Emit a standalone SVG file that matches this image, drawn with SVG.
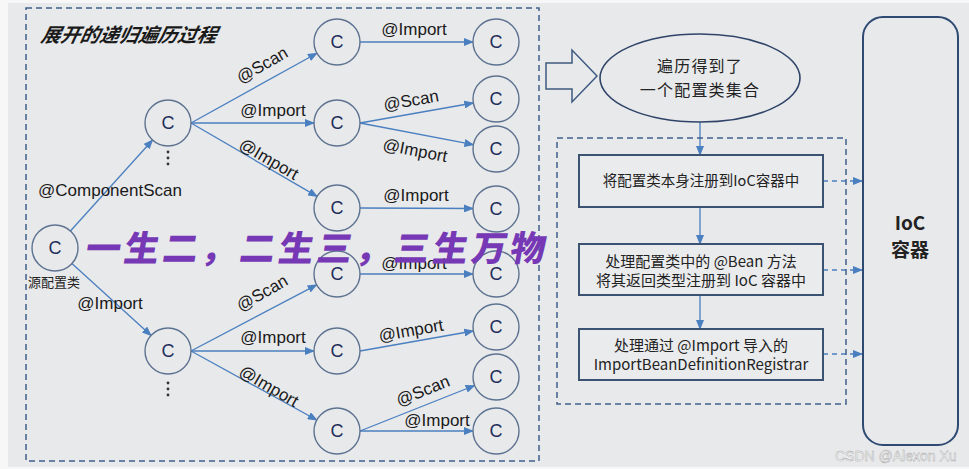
<svg xmlns="http://www.w3.org/2000/svg" width="969" height="469" viewBox="0 0 969 469">
<style>
.bg{fill:#e8e9eb}
.circ{fill:#e8e9eb;stroke:#5d7290;stroke-width:1.4}
.ct{font-family:"Liberation Sans",Arial,sans-serif;font-size:18px;fill:#1f2d5a;text-anchor:middle}
.lbl{font-family:"Liberation Sans",Arial,sans-serif;font-size:17px;fill:#1a1a1a;text-anchor:middle}
.edge{stroke:#4a7fc0;stroke-width:1.3;fill:none;marker-end:url(#ah)}
.dedge{stroke:#4a7fc0;stroke-width:1.3;fill:none;stroke-dasharray:5 4;marker-end:url(#ah)}
.dbox{fill:none;stroke:#3f5f8a;stroke-width:1.5;stroke-dasharray:6 4}
.box{fill:#eaebed;stroke:#3b5273;stroke-width:2}
.cn{font-family:"Noto Sans CJK SC","Noto Sans",sans-serif;fill:#222;text-anchor:middle}
.dots{fill:#333}
</style>
<defs>
<marker id="ah" markerUnits="userSpaceOnUse" markerWidth="10" markerHeight="8" refX="9" refY="4" orient="auto">
<path d="M0,0 L10,4 L0,8 z" fill="#4a7fc0"/>
</marker>
</defs>
<rect x="0" y="0" width="969" height="469" fill="#f7f7f7"/>
<rect x="8" y="3" width="961" height="464" class="bg"/>

<g id="frame-left">
<rect x="26" y="8" width="513" height="453" class="dbox"/>
<text x="40" y="42" font-family="'Noto Sans CJK SC',sans-serif" font-size="19.5" font-weight="700" font-style="italic" fill="#1a1a1a" transform="translate(9,0) skewX(-12)">展开的递归遍历过程</text>
</g>

<g id="connectors">
<line class="edge" x1="70.4" y1="231" x2="152.6" y2="140"/>
<line class="edge" x1="71.9" y1="263.6" x2="151.1" y2="335.6"/>
<line class="edge" x1="191" y1="123" x2="316.9" y2="53.2"/>
<line class="edge" x1="191" y1="123" x2="314" y2="123"/>
<line class="edge" x1="191" y1="123" x2="317.1" y2="196.4"/>
<line class="edge" x1="360" y1="42" x2="473" y2="42"/>
<line class="edge" x1="360" y1="123" x2="473.3" y2="103"/>
<line class="edge" x1="360" y1="123" x2="473.4" y2="144.7"/>
<line class="edge" x1="360" y1="208" x2="473" y2="208.5"/>
<line class="edge" x1="191" y1="351" x2="316.7" y2="284.8"/>
<line class="edge" x1="191" y1="351" x2="314" y2="351"/>
<line class="edge" x1="191" y1="351" x2="316.8" y2="420"/>
<line class="edge" x1="360" y1="274" x2="473" y2="274"/>
<line class="edge" x1="360" y1="351" x2="473.3" y2="331"/>
<line class="edge" x1="360" y1="431" x2="474.6" y2="385.5"/>
<line class="edge" x1="360" y1="431" x2="473" y2="431"/>
<line class="edge" x1="700" y1="122" x2="700" y2="155"/>
<line class="edge" x1="700" y1="207" x2="700" y2="244"/>
<line class="edge" x1="700" y1="295" x2="700" y2="329"/>
<line class="dedge" x1="823" y1="181" x2="862" y2="181"/>
<line class="dedge" x1="823" y1="270" x2="862" y2="270"/>
<line class="dedge" x1="823" y1="354" x2="862" y2="354"/>
</g>

<g id="edge-labels">
<text class="lbl" x="110" y="196">@ComponentScan</text>
<text class="lbl" x="110" y="309">@Import</text>
<text class="lbl" transform="translate(265,70) rotate(-30)">@Scan</text>
<text class="lbl" x="273" y="116">@Import</text>
<text class="lbl" transform="translate(266,164) rotate(30)">@Import</text>
<text class="lbl" x="414" y="35">@Import</text>
<text class="lbl" transform="translate(412,106) rotate(-10)">@Scan</text>
<text class="lbl" transform="translate(414,156) rotate(11)">@Import</text>
<text class="lbl" x="416" y="201">@Import</text>
<text class="lbl" transform="translate(265,298) rotate(-30)">@Scan</text>
<text class="lbl" x="273" y="343">@Import</text>
<text class="lbl" transform="translate(266,391) rotate(30)">@Import</text>
<text class="lbl" x="414" y="269">@Import</text>
<text class="lbl" transform="translate(412,336) rotate(-10)">@Import</text>
<text class="lbl" transform="translate(425,396) rotate(-22)">@Scan</text>
<text class="lbl" x="437" y="426">@Import</text>
</g>

<g id="node-src"><circle class="circ" cx="55" cy="248" r="23"/><text class="ct" x="55" y="254">C</text>
<text x="28" y="287" font-family="'Noto Sans CJK SC',sans-serif" font-size="13" fill="#222">源配置类</text></g>
<g id="node-a"><circle class="circ" cx="168" cy="123" r="23"/><text class="ct" x="168" y="129">C</text>
<circle class="dots" cx="168" cy="152" r="1.4"/><circle class="dots" cx="168" cy="158" r="1.4"/><circle class="dots" cx="168" cy="164" r="1.4"/></g>
<g id="node-b"><circle class="circ" cx="168" cy="351" r="23"/><text class="ct" x="168" y="357">C</text>
<circle class="dots" cx="168" cy="383" r="1.4"/><circle class="dots" cx="168" cy="389" r="1.4"/><circle class="dots" cx="168" cy="395" r="1.4"/></g>
<g id="node-a1"><circle class="circ" cx="337" cy="42" r="23"/><text class="ct" x="337" y="48">C</text></g>
<g id="node-a2"><circle class="circ" cx="337" cy="123" r="23"/><text class="ct" x="337" y="129">C</text></g>
<g id="node-a3"><circle class="circ" cx="337" cy="208" r="23"/><text class="ct" x="337" y="214">C</text></g>
<g id="node-a1a"><circle class="circ" cx="496" cy="42" r="23"/><text class="ct" x="496" y="48">C</text></g>
<g id="node-a2a"><circle class="circ" cx="496" cy="99" r="23"/><text class="ct" x="496" y="105">C</text></g>
<g id="node-a2b"><circle class="circ" cx="496" cy="149" r="23"/><text class="ct" x="496" y="155">C</text></g>
<g id="node-a3a"><circle class="circ" cx="496" cy="209" r="23"/><text class="ct" x="496" y="215">C</text></g>
<g id="node-b1"><circle class="circ" cx="337" cy="274" r="23"/><text class="ct" x="337" y="280">C</text></g>
<g id="node-b2"><circle class="circ" cx="337" cy="351" r="23"/><text class="ct" x="337" y="357">C</text></g>
<g id="node-b3"><circle class="circ" cx="337" cy="431" r="23"/><text class="ct" x="337" y="437">C</text></g>
<g id="node-b1a"><circle class="circ" cx="496" cy="274" r="23"/><text class="ct" x="496" y="280">C</text></g>
<g id="node-b2a"><circle class="circ" cx="496" cy="327" r="23"/><text class="ct" x="496" y="333">C</text></g>
<g id="node-b3a"><circle class="circ" cx="496" cy="377" r="23"/><text class="ct" x="496" y="383">C</text></g>
<g id="node-b3b"><circle class="circ" cx="496" cy="431" r="23"/><text class="ct" x="496" y="437">C</text></g>

<g id="overlay-text">
<text x="86" y="261" font-family="'Noto Sans CJK SC',sans-serif" font-size="35" font-weight="900" fill="#7638b4" letter-spacing="3.6" transform="skewX(-10) translate(44,0)">一生二，二生三，三生万物</text>
</g>

<g id="big-arrow">
<path d="M546,63 L572,63 L572,50 L597,76 L572,102 L572,89 L546,89 Z" fill="#e8e9eb" stroke="#3d5a80" stroke-width="1.5"/>
</g>

<g id="node-set">
<ellipse cx="700" cy="78" rx="100" ry="44" fill="#e8e9eb" stroke="#2f4468" stroke-width="1.6"/>
<text class="cn" x="700" y="72" font-size="16" letter-spacing="1.2" fill="#1f3050">遍历得到了</text>
<text class="cn" x="700" y="96" font-size="16" letter-spacing="1.2" fill="#1f3050">一个配置类集合</text>
</g>

<g id="frame-right"><rect x="557" y="138" width="289" height="266" class="dbox"/></g>

<g id="node-step1">
<rect x="579" y="155" width="244" height="52" class="box"/>
<text class="cn" x="701" y="186" font-size="14.5">将配置类本身注册到IoC容器中</text>
</g>
<g id="node-step2">
<rect x="579" y="244" width="244" height="51" class="box"/>
<text class="cn" x="701" y="267" font-size="15">处理配置类中的 @Bean 方法</text>
<text class="cn" x="701" y="286" font-size="15">将其返回类型注册到 IoC 容器中</text>
</g>
<g id="node-step3">
<rect x="579" y="329" width="244" height="51" class="box"/>
<text class="cn" x="701" y="351" font-size="15">处理通过 @Import 导入的</text>
<text class="cn" x="701" y="370" font-size="15">ImportBeanDefinitionRegistrar</text>
</g>

<g id="node-ioc">
<rect x="863" y="17" width="95" height="428" rx="20" ry="20" fill="#e8e9eb" stroke="#2f4a72" stroke-width="2"/>
<text class="cn" x="910" y="230" font-size="19" font-weight="700" fill="#1f3a6e">IoC</text>
<text class="cn" x="910" y="257" font-size="19" font-weight="700" fill="#1f3a6e">容器</text>
</g>

<text x="835" y="461" font-family="'Liberation Sans',Arial,sans-serif" font-size="14" fill="#fafafa" stroke="#a0a0a0" stroke-width="0.4">CSDN @Alexon Xu</text>
</svg>
